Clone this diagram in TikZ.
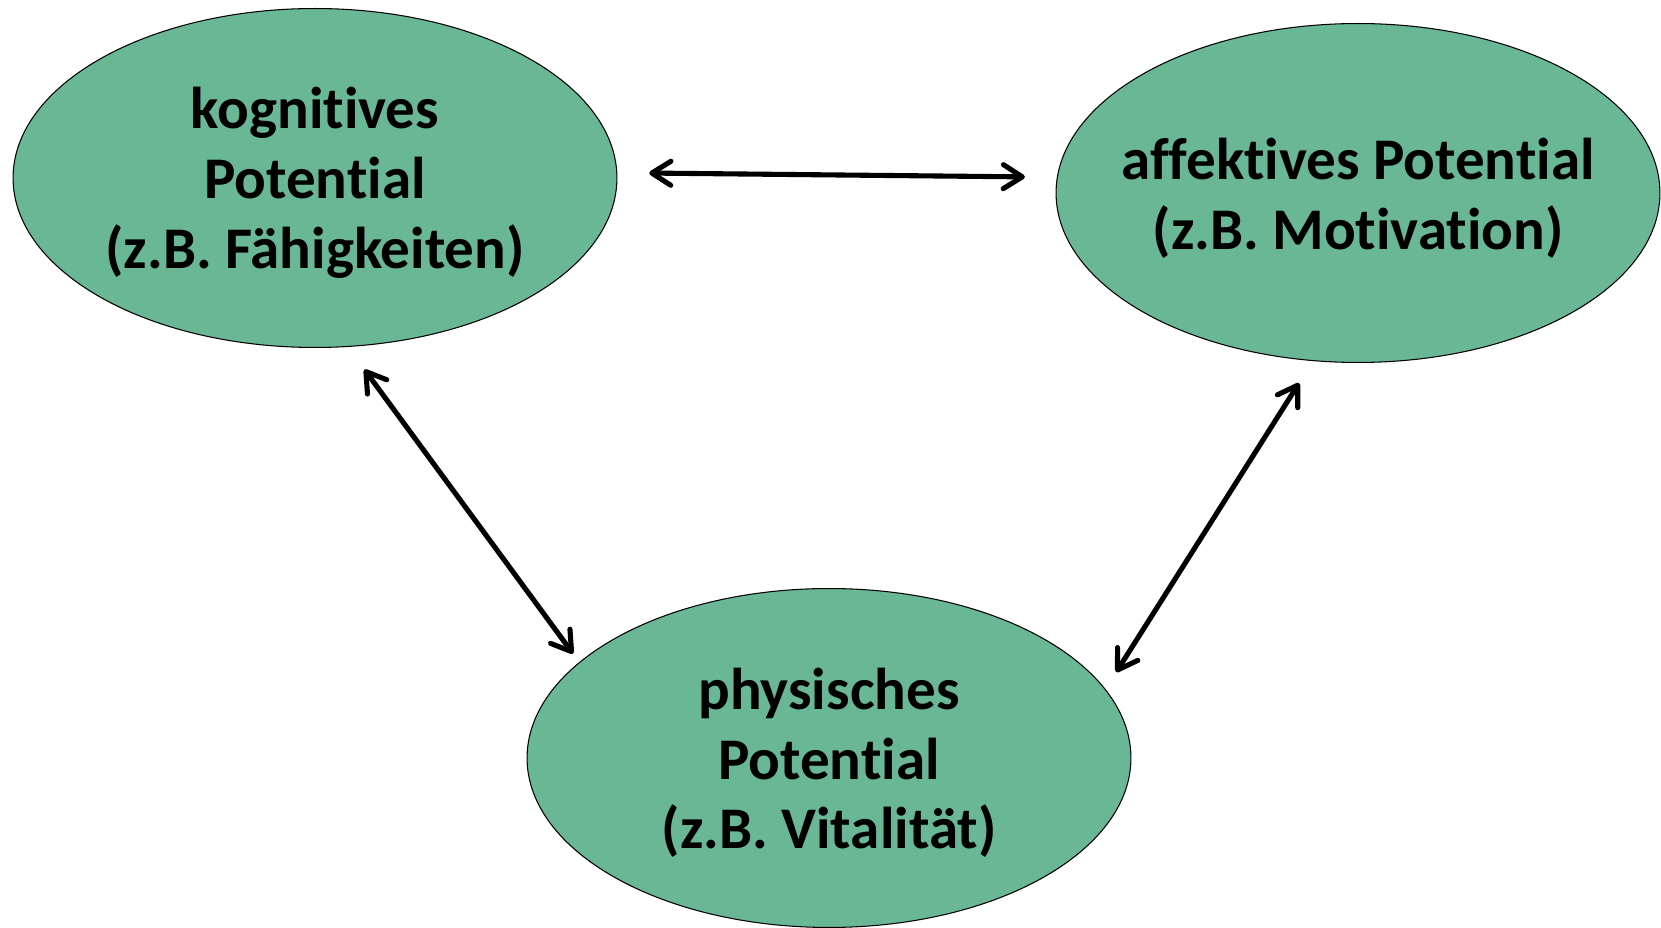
\documentclass[tikz,border=0pt]{standalone}
\usepackage{fontspec}
\setmainfont{Carlito}[Ligatures=NoCommon]
\usetikzlibrary{shapes.geometric,arrows.meta}
\definecolor{potgreen}{RGB}{106,183,150}

\begin{document}
\begin{tikzpicture}[x=0.02cm, y=-0.02cm,
    potential/.style={ellipse, draw=black, line width=0.6pt, fill=potgreen,
      minimum width=12.08cm, minimum height=6.78cm, inner sep=0pt},
    pottext/.style={align=center, yshift=-0.1cm, font=\bfseries\fontsize{33.6}{39.7}\selectfont},
    link/.style={{Straight Barb[length=3.8mm,width=4.8mm,round]}-{Straight Barb[length=3.8mm,width=4.8mm,round]},
      line width=2.9pt, line cap=round}]
    \useasboundingbox (0,0) rectangle (1661,928);
    \node[potential] (kog) at (315,178) {};
    \node[potential] (aff) at (1358,193) {};
    \node[potential] (phys) at (829,758) {};
    \node[pottext] (kogtext) at (kog) {kognitives\\Potential\\(z.B. Fähigkeiten)};
    \node[pottext] (afftext) at (aff) {affektives Potential\\(z.B. Motivation)};
    \node[pottext] (phystext) at (phys) {physisches\\Potential\\(z.B. Vitalität)};
    \draw[link, shorten <=0.64cm, shorten >=0.64cm] (kog.1) -- (aff.177);
    \draw[link, shorten <=0.56cm, shorten >=0.21cm] (kog.281) -- (phys.159);
    \draw[link, shorten <=0.52cm, shorten >=0.4cm] (aff.255) -- (phys.14);
  \end{tikzpicture}
\end{document}
